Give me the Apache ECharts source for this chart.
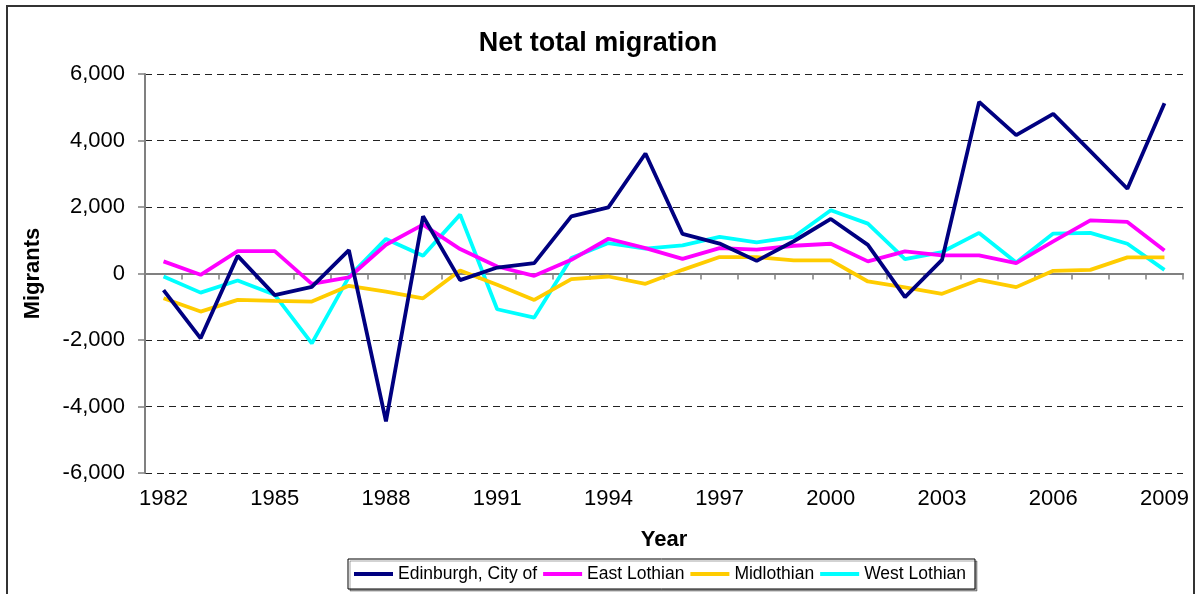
<!DOCTYPE html>
<html>
<head>
<meta charset="utf-8">
<script src="https://cdn.jsdelivr.net/npm/echarts@6/dist/echarts.min.js"></script>
<style>
html,body{margin:0;padding:0;background:#fff;}
#chart{width:1196px;height:594px;}
</style>
</head>
<body>
<div id="chart"></div>
<script>
var years = ['1982','1983','1984','1985','1986','1987','1988','1989','1990','1991','1992','1993','1994','1995','1996','1997','1998','1999','2000','2001','2002','2003','2004','2005','2006','2007','2008','2009'];
var edinburgh = [-500, -1950, 530, -650, -400, 700, -4450, 1720, -200, 180, 310, 1720, 1990, 3610, 1190, 900, 380, 970, 1640, 860, -710, 410, 5160, 4160, 4800, 3680, 2550, 5120];
var eastLothian = [365, -40, 675, 675, -310, -120, 865, 1470, 735, 210, -70, 410, 1045, 765, 440, 765, 715, 835, 895, 365, 665, 545, 545, 310, 965, 1600, 1550, 695];
var midlothian = [-745, -1145, -795, -825, -845, -370, -545, -745, 90, -340, -795, -170, -90, -310, 110, 495, 495, 395, 395, -240, -420, -610, -190, -410, 80, 110, 485, 485];
var westLothian = [-90, -575, -210, -640, -2100, -100, 1040, 535, 1770, -1075, -1325, 465, 915, 745, 845, 1100, 935, 1100, 1900, 1500, 435, 645, 1220, 330, 1200, 1220, 895, 110];
var seriesNames = ['Edinburgh, City of', 'East Lothian', 'Midlothian', 'West Lothian'];
var seriesColors = ['#000080', '#FF00FF', '#FFCC00', '#00FFFF'];
var seriesData = [edinburgh, eastLothian, midlothian, westLothian];

var FONT = '"Liberation Sans", Arial, sans-serif';
var chart = echarts.init(document.getElementById('chart'), null, {renderer: 'canvas'});

var option = {
  backgroundColor: '#fff',
  animation: false,
  title: {
    text: 'Net total migration',
    left: 'center',
    top: 30,
    padding: 0,
    textStyle: {fontFamily: FONT, fontSize: 27, fontWeight: 'bold', color: '#000'}
  },
  graphic: [{
    type: 'rect',
    shape: {x: 7, y: 6, width: 1187, height: 620},
    style: {fill: null, stroke: '#333', lineWidth: 2},
    silent: true
  }],
  legend: {
    data: seriesNames,
    left: 348,
    top: 559,
    orient: 'horizontal',
    icon: 'rect',
    itemWidth: 39,
    itemHeight: 4,
    itemGap: 6,
    padding: [6, 9, 6, 6],
    borderColor: '#000',
    borderWidth: 1,
    backgroundColor: '#fff',
    shadowColor: 'rgba(0,0,0,0.35)',
    shadowOffsetX: 2,
    shadowOffsetY: 2,
    shadowBlur: 0,
    textStyle: {fontFamily: FONT, fontSize: 17.5, color: '#000'}
  },
  grid: {left: 145, right: 13, top: 74, bottom: 121, containLabel: false},
  xAxis: [{
    type: 'category',
    data: years,
    boundaryGap: true,
    position: 'bottom',
    name: 'Year',
    nameLocation: 'middle',
    nameGap: 56,
    nameTextStyle: {fontFamily: FONT, fontSize: 22, fontWeight: 'bold', color: '#000'},
    axisLine: {show: false, onZero: false},
    axisTick: {show: false},
    axisLabel: {interval: 2, margin: 15, fontFamily: FONT, fontSize: 22, color: '#000'},
    splitLine: {show: false}
  }, {
    type: 'category',
    data: years,
    boundaryGap: true,
    position: 'bottom',
    axisLine: {show: true, onZero: true, lineStyle: {color: '#808080', width: 2}},
    axisTick: {show: true, interval: 0, length: 6, inside: false, lineStyle: {color: '#808080', width: 1.5}},
    axisLabel: {show: false},
    splitLine: {show: false}
  }],
  yAxis: {
    type: 'value',
    min: -6000,
    max: 6000,
    interval: 2000,
    name: 'Migrants',
    nameLocation: 'middle',
    nameGap: 101,
    nameRotate: 90,
    nameTextStyle: {fontFamily: FONT, fontSize: 22, fontWeight: 'bold', color: '#000'},
    axisLine: {show: true, lineStyle: {color: '#808080', width: 2}},
    axisTick: {show: true, length: 7, inside: false, lineStyle: {color: '#808080', width: 1.5}},
    axisLabel: {
      margin: 20,
      fontFamily: FONT,
      fontSize: 22,
      color: '#000',
      formatter: function (v) { return v.toLocaleString('en-US'); }
    },
    splitLine: {show: true, lineStyle: {color: '#222', width: 1, type: [7, 5]}}
  },
  series: seriesNames.map(function (n, i) {
    return {
      name: n,
      type: 'line',
      xAxisIndex: 0,
      data: seriesData[i],
      symbol: 'none',
      smooth: false,
      color: seriesColors[i],
      lineStyle: {color: seriesColors[i], width: 3.8},
      z: 10 - i
    };
  })
};
chart.setOption(option);
</script>
</body>
</html>
